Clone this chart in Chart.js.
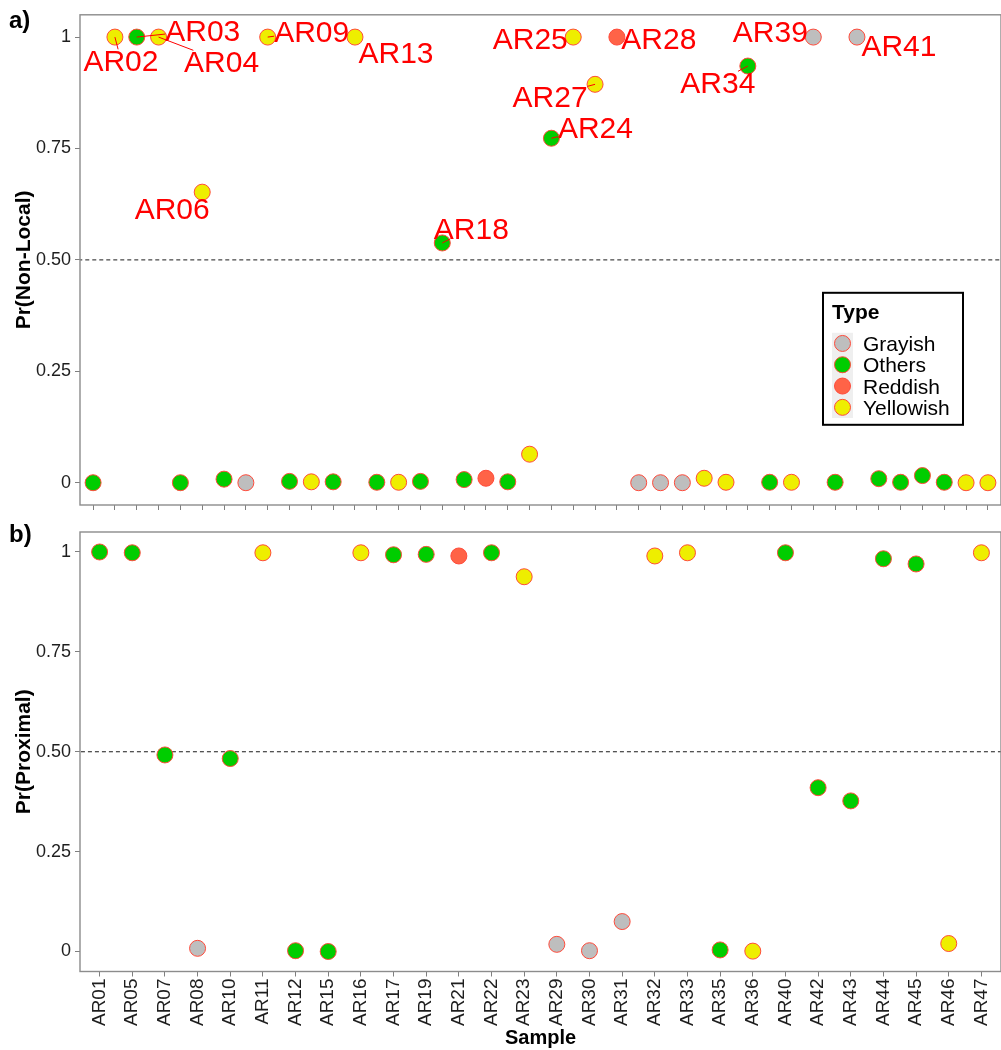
<!DOCTYPE html>
<html>
<head>
<meta charset="utf-8">
<script src="https://cdn.jsdelivr.net/npm/chart.js@4.4.1/dist/chart.umd.min.js"></script>
<style>
html,body{margin:0;padding:0;background:#fff;overflow:hidden;width:1001px;height:1050px;}
#cA{position:absolute;left:0;top:0;}
#cB{position:absolute;left:0;top:510px;}
.panel{position:absolute;font:bold 24px "Liberation Sans",Arial,sans-serif;color:#000;line-height:24px;}
</style>
</head>
<body>
<canvas id="cA" width="1010" height="520"></canvas>
<canvas id="cB" width="1010" height="540"></canvas>
<div class="panel" style="left:9px;top:8px">a)</div>
<div class="panel" style="left:9px;top:522px">b)</div>
<script>
// ---------------- DATA ----------------
const topSamples = ['AR01','AR02','AR03','AR04','AR05','AR06','AR07','AR08','AR09','AR10',
  'AR11','AR12','AR13','AR15','AR16','AR17','AR18','AR19','AR21','AR22',
  'AR23','AR24','AR25','AR27','AR28','AR29','AR30','AR31','AR32','AR33',
  'AR34','AR35','AR36','AR39','AR40','AR41','AR42','AR43','AR44','AR45','AR46','AR47'];
const topValues = [0.000,1.000,1.000,1.000,0.000,0.652,0.008,0.000,1.000,0.003,
  0.002,0.002,1.000,0.001,0.001,0.003,0.538,0.007,0.010,0.002,
  0.064,0.773,1.000,0.894,1.000,0.000,0.000,0.000,0.010,0.001,
  0.935,0.001,0.001,1.000,0.001,1.000,0.009,0.001,0.016,0.001,0.000,0.000];
const topTypes = ['Others','Yellowish','Others','Yellowish','Others','Yellowish','Others','Grayish','Yellowish','Others',
  'Yellowish','Others','Yellowish','Others','Yellowish','Others','Others','Others','Reddish','Others',
  'Yellowish','Others','Yellowish','Yellowish','Reddish','Grayish','Grayish','Grayish','Yellowish','Yellowish',
  'Others','Others','Yellowish','Grayish','Others','Grayish','Others','Others','Others','Others','Yellowish','Yellowish'];
const labelledSamples = ['AR02','AR03','AR04','AR06','AR09','AR13','AR18','AR24','AR25','AR27','AR28','AR34','AR39','AR41'];

const bottomSamples = ['AR01','AR05','AR07','AR08','AR10','AR11','AR12','AR15','AR16','AR17',
  'AR19','AR21','AR22','AR23','AR29','AR30','AR31','AR32','AR33','AR35',
  'AR36','AR40','AR42','AR43','AR44','AR45','AR46','AR47'];
const bottomValues = [1.000,0.998,0.492,0.008,0.483,0.998,0.002,0.000,0.998,0.993,
  0.994,0.990,0.998,0.938,0.018,0.002,0.075,0.990,0.998,0.004,
  0.001,0.998,0.410,0.377,0.983,0.970,0.020,0.998];
const bottomTypes = ['Others','Others','Others','Grayish','Others','Yellowish','Others','Others','Yellowish','Others',
  'Others','Reddish','Others','Yellowish','Grayish','Grayish','Grayish','Yellowish','Yellowish','Others',
  'Yellowish','Others','Others','Others','Others','Others','Yellowish','Yellowish'];

const typeNames = ['Grayish','Others','Reddish','Yellowish'];
const typeFills = ['#BEBEBE','#00CD00','#FF6347','#EEEE00'];
const yTickValues = [0,0.25,0.5,0.75,1];
const yTickLabels = ['0','0.25','0.50','0.75','1'];
const refLineValue = 0.5;

// ---------------- LAYOUT / STYLE ----------------
const FAM = '"Liberation Sans", Arial, Helvetica, sans-serif';
const POINT_BORDER = '#FF4A3A';
const AXIS_GREY = '#7f7f7f';
// label text offsets (px) from point centre to text centre (repel placement), and whether a leader segment shows
const labelOffsets = {
  AR02:[6,23], AR03:[66,-7], AR04:[63,24], AR06:[-30,16], AR09:[44,-6], AR13:[41,15],
  AR18:[29,-15], AR24:[44,-11], AR25:[-43,1], AR27:[-45,12], AR28:[42,1], AR34:[-30,16],
  AR39:[-43,-6], AR41:[42,8]
};
const labelSegments = {AR02:1, AR03:1, AR04:1, AR09:1, AR18:1, AR24:1, AR27:1, AR34:1};

function makeDatasets(samples, values, types){
  const sets = typeNames.map((t,k)=>({
    label:t, type:'scatter',
    data: samples.map((s,i)=>types[i]===t?{x:i,y:values[i]}:null).filter(d=>d),
    backgroundColor:typeFills[k], borderColor:POINT_BORDER, borderWidth:1,
    pointRadius:8, pointHoverRadius:8, order:1
  }));
  sets.push({
    label:'ref', type:'line',
    data:[{x:-1,y:refLineValue},{x:samples.length,y:refLineValue}],
    borderColor:'#1a1a1a', borderWidth:1, borderDash:[4,3], pointRadius:0, order:5
  });
  return sets;
}

const borderPlugin = {
  id:'panelBorder',
  afterDraw(chart){
    const {ctx, chartArea:a} = chart;
    ctx.save();
    ctx.strokeStyle = '#8c8c8c'; ctx.lineWidth = 1.4;
    ctx.strokeRect(a.left, a.top, a.right-a.left, a.bottom-a.top);
    ctx.restore();
  }
};

const repelPlugin = {
  id:'repel',
  afterDatasetsDraw(chart){
    const {ctx, scales:{x,y}} = chart;
    const size = 30;
    ctx.save();
    ctx.font = size+'px '+FAM;
    ctx.fillStyle = '#FF0000'; ctx.strokeStyle = '#FF0000'; ctx.lineWidth = 1;
    ctx.textAlign = 'left'; ctx.textBaseline = 'alphabetic';
    labelledSamples.forEach(name=>{
      const i = topSamples.indexOf(name);
      const px = x.getPixelForValue(i), py = y.getPixelForValue(topValues[i]);
      const off = labelOffsets[name];
      const cx = px+off[0], cy = py+off[1];
      const w = ctx.measureText(name).width, h = size*0.716;
      const l = cx-w/2, r = cx+w/2, t = cy-h/2, b = cy+h/2;
      const dx = cx-px, dy = cy-py;
      let tx = 0, ty = 0;
      if (px < l) tx = (l-px)/dx; else if (px > r) tx = (r-px)/dx;
      if (py < t) ty = (t-py)/dy; else if (py > b) ty = (b-py)/dy;
      let te = Math.max(tx,ty);
      if (labelSegments[name]){
        if (te < 0.12) te = 0.12;
        ctx.beginPath(); ctx.moveTo(px,py); ctx.lineTo(px+te*dx, py+te*dy); ctx.stroke();
      }
      ctx.fillText(name, l, b);
    });
    ctx.restore();
  }
};

const legendPlugin = {
  id:'typeLegend',
  afterDraw(chart){
    const {ctx, chartArea:a} = chart;
    const L = a.right-178, T = a.top+278, W = 140, H = 132;
    ctx.save();
    ctx.fillStyle = '#fff'; ctx.fillRect(L,T,W,H);
    ctx.strokeStyle = '#000'; ctx.lineWidth = 2;
    ctx.strokeRect(L,T,W,H);
    ctx.fillStyle = '#000'; ctx.textBaseline = 'alphabetic'; ctx.textAlign='left';
    ctx.font = 'bold 21px '+FAM;
    ctx.fillText('Type', L+9, T+26);
    const rowH = 21.3, keyTop = T+40;
    ctx.fillStyle = '#EFEFEF';
    ctx.fillRect(L+9, keyTop, 21, rowH*typeNames.length);
    ctx.font = '21px '+FAM;
    typeNames.forEach((t,k)=>{
      const cy = keyTop + rowH*(k+0.5);
      ctx.beginPath(); ctx.arc(L+19.5, cy, 8, 0, Math.PI*2);
      ctx.fillStyle = typeFills[k]; ctx.fill();
      ctx.strokeStyle = POINT_BORDER; ctx.lineWidth = 1; ctx.stroke();
      ctx.fillStyle = '#000';
      ctx.fillText(t, L+40, cy+7.5);
    });
    ctx.restore();
  }
};

function yScale(title){
  return {
    type:'linear', min:-0.05, max:1.05,
    afterBuildTicks:s=>{ s.ticks = yTickValues.map(v=>({value:v})); },
    ticks:{ callback:v=>yTickLabels[yTickValues.indexOf(v)], color:'#1e1e1e',
            font:{size:18, family:FAM}, padding:4 },
    grid:{ drawOnChartArea:false, tickLength:5, color:AXIS_GREY, tickWidth:1 },
    border:{ display:false },
    title:{ display:true, text:title, color:'#000', font:{size:21, weight:'bold', family:FAM},
            padding:{top:12,bottom:0} },
    afterFit:s=>{ s.width = 80; }
  };
}

Chart.defaults.font.family = FAM;

new Chart(document.getElementById('cA'), {
  data:{ datasets: makeDatasets(topSamples, topValues, topTypes) },
  options:{
    responsive:false, animation:false, events:[],
    layout:{ padding:{ top:14, right:8, left:0, bottom:0 } },
    plugins:{ legend:{display:false}, tooltip:{enabled:false} },
    scales:{
      x:{ type:'linear', min:-0.6, max:topSamples.length-1+0.6,
          afterBuildTicks:s=>{ s.ticks = topSamples.map((_,i)=>({value:i})); },
          ticks:{ display:false, autoSkip:false },
          grid:{ drawOnChartArea:false, tickLength:5, color:AXIS_GREY, tickWidth:1 },
          border:{ display:false },
          afterFit:s=>{ s.height = 15; } },
      y: yScale('Pr(Non-Local)')
    }
  },
  plugins:[borderPlugin, repelPlugin, legendPlugin]
});

new Chart(document.getElementById('cB'), {
  data:{ datasets: makeDatasets(bottomSamples, bottomValues, bottomTypes) },
  options:{
    responsive:false, animation:false, events:[],
    layout:{ padding:{ top:22, right:5, left:0, bottom:0 } },
    plugins:{ legend:{display:false}, tooltip:{enabled:false} },
    scales:{
      x:{ type:'linear', min:-0.6, max:bottomSamples.length-1+0.6,
          afterBuildTicks:s=>{ s.ticks = bottomSamples.map((_,i)=>({value:i})); },
          ticks:{ autoSkip:false, minRotation:90, maxRotation:90, padding:2,
                  color:'#1e1e1e', font:{size:19, family:FAM},
                  callback:v=>bottomSamples[v] },
          grid:{ drawOnChartArea:false, tickLength:5, color:AXIS_GREY, tickWidth:1 },
          border:{ display:false },
          title:{ display:true, text:'Sample', color:'#000', font:{size:20, weight:'bold', family:FAM},
                  padding:{top:0,bottom:0} },
          afterFit:s=>{ s.height = 78.5; } },
      y: yScale('Pr(Proximal)')
    }
  },
  plugins:[borderPlugin]
});
</script>
</body>
</html>
